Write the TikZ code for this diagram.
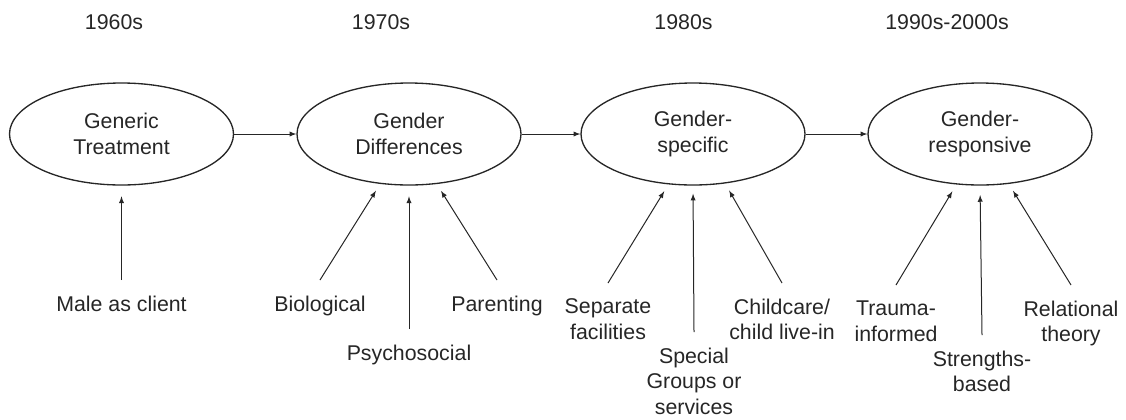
\documentclass[tikz,border=0pt]{standalone}
\usepackage{fontspec}
\setmainfont{Liberation Sans}
\usetikzlibrary{shapes.geometric, arrows, positioning}

\begin{document}
\begin{tikzpicture}[
    x=0.75pt, y=-0.75pt,
    % Styles for each node type
    era/.style={inner sep=0pt, text=black!85, font=\fontsize{16pt}{19pt}\selectfont},
    stage/.style={ellipse, draw=black!85, line width=1pt, align=center, minimum width=168pt, minimum height=76.5pt, inner sep=0pt, text=black!85, font=\fontsize{16pt}{19pt}\selectfont},
    factor/.style={anchor=north, align=center, inner sep=0pt, outer ysep=12pt, text=black!85, font=\fontsize{16pt}{19pt}\selectfont},
    arrow/.style={line width=0.75pt, ->, >=latex, black!85},
    feed/.style={arrow, shorten >=6pt}
]
\useasboundingbox (0,0) rectangle (1126,419);

% Decades (top row)
\node[era] (d60) at (114,22) {1960s};
\node[era] (d70) at (381,22) {1970s};
\node[era] (d80) at (683.5,22) {1980s};
\node[era] (d90) at (947,22) {1990s-2000s};

% Stages of treatment
\node[stage] (gt) at (121.5,134) {Generic\\Treatment};
\node[stage] (gd) at (409,134) {Gender\\Differences};
\node[stage] (gs) at (693,134) {Gender-\\specific};
\node[stage] (gr) at (980,134) {Gender-\\responsive};

% Stage to stage
\draw[arrow] (gt) -- (gd);
\draw[arrow] (gd) -- (gs);
\draw[arrow] (gs) -- (gr);

% Factors under Generic Treatment
\node[factor] (male) at (121.5,280) {Male as client};

% Factors under Gender Differences
\node[factor] (bio) at (320,280) {Biological};
\node[factor] (psy) at (409,329) {Psychosocial};
\node[factor] (par) at (497,280) {Parenting};

% Factors under Gender-specific
\node[factor] (sep) at (608,283) {Separate\\facilities};
\node[factor] (spc) at (694,332) {Special\\Groups or\\services};
\node[factor] (chl) at (782,283) {Childcare/\\child live-in};

% Factors under Gender-responsive
\node[factor] (tra) at (896,285) {Trauma-\\informed};
\node[factor] (str) at (982,335) {Strengths-\\based};
\node[factor] (rel) at (1071,285) {Relational\\theory};

% Factors to stages
\draw[feed, shorten >=8pt] (male.north) -- (gt.270);

\draw[feed] (bio.north) -- (gd.240);
\draw[feed, shorten >=8pt] (psy.north) -- (gd.270);
\draw[feed] (par.north) -- (gd.299);

\draw[feed] (sep.north) -- (gs.244);
\draw[feed, shorten >=6pt] (spc.north) -- (gs.270);
\draw[feed] (chl.north) -- (gs.303);

\draw[feed] (tra.north) -- (gr.245);
\draw[feed, shorten >=7pt] (str.north) -- (gr.270);
\draw[feed] (rel.north) -- (gr.300);

\end{tikzpicture}
\end{document}
